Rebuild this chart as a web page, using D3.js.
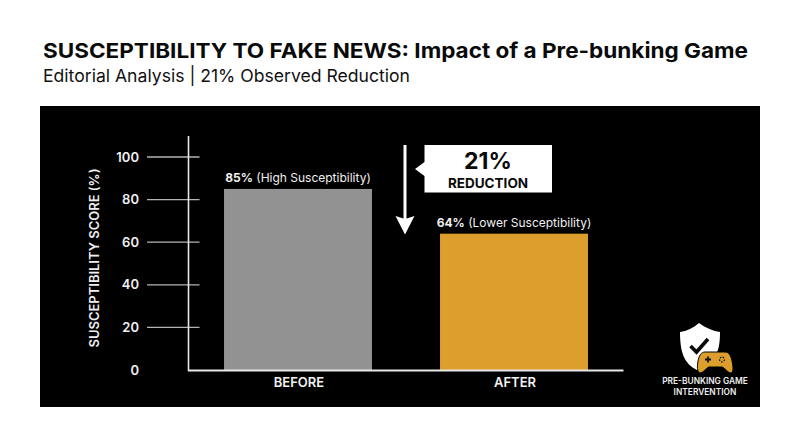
<!DOCTYPE html>
<html><head><meta charset="utf-8">
<script src="https://cdn.jsdelivr.net/npm/d3@7/dist/d3.min.js"></script>
<style>html,body{margin:0;padding:0;background:#fff}svg{display:block}text{font-family:Inter,"Open Sans",sans-serif}</style>
</head><body><div id="c"></div>
<script>
const categories=["BEFORE","AFTER"];
const values=[85,64];
const valueLabels=["85%","64%"];
const noteLabels=[" (High Susceptibility)"," (Lower Susceptibility)"];
const barColors=["#929292","#dc9f2e"];
const tickValues=[0,20,40,60,80,100];
const titleText="SUSCEPTIBILITY TO FAKE NEWS: Impact of a Pre-bunking Game";
const subtitleText="Editorial Analysis | 21% Observed Reduction";
const axisTitle="SUSCEPTIBILITY SCORE (%)";
const calloutNumber="21%", calloutWord="REDUCTION";
const badgeLines=["PRE-BUNKING GAME","INTERVENTION"];

const svg=d3.select("#c").append("svg").attr("width",800).attr("height",447);
svg.append("rect").attr("width",800).attr("height",447).attr("fill","#fff");
const fit=(s,len)=>s.attr("textLength",len).attr("lengthAdjust","spacingAndGlyphs");
fit(svg.append("text").attr("x",43).attr("y",58).attr("font-size",20.5).attr("font-weight",700).attr("fill","#0a0a0a").text(titleText),705);
fit(svg.append("text").attr("x",43).attr("y",82).attr("font-size",17.5).attr("font-weight",400).attr("fill","#111").text(subtitleText),367);
svg.append("rect").attr("x",40).attr("y",106).attr("width",720).attr("height",301).attr("fill","#000");

const y=d3.scaleLinear().domain([0,100]).range([370,157]);
const x=d3.scaleBand().domain(categories).range([188.5,623.5]).paddingInner(0.315).paddingOuter(0.1645);

svg.append("g").selectAll("line").data(tickValues.filter(d=>d>0)).join("line")
 .attr("x1",147).attr("x2",199.5).attr("y1",d=>y(d)).attr("y2",d=>y(d)).attr("stroke","#b4b4b4").attr("stroke-width",1.3);
svg.append("g").selectAll("text").data(tickValues).join("text")
 .attr("x",139).attr("y",d=>y(d)+4.5).attr("text-anchor","end").attr("font-size",13).attr("font-weight",600).attr("fill","#f0f0f0").text(d=>d);
fit(svg.append("text").attr("transform","translate(99,258) rotate(-90)").attr("text-anchor","middle").attr("font-size",12.5).attr("font-weight",600).attr("fill","#f0f0f0").text(axisTitle),179);

svg.append("g").selectAll("rect").data(values).join("rect")
 .attr("x",(d,i)=>x(categories[i])).attr("width",x.bandwidth()).attr("y",d=>y(d)).attr("height",d=>y(0)-y(d)).attr("fill",(d,i)=>barColors[i]);

svg.append("line").attr("x1",188.5).attr("x2",188.5).attr("y1",136).attr("y2",371).attr("stroke","#e8e8e8").attr("stroke-width",1.6);
svg.append("line").attr("x1",188).attr("x2",623.5).attr("y1",370.5).attr("y2",370.5).attr("stroke","#e8e8e8").attr("stroke-width",1.8);

svg.append("g").selectAll("text").data(categories).join("text")
 .attr("x",d=>x(d)+x.bandwidth()/2+1).attr("y",387).attr("text-anchor","middle").attr("font-size",13).attr("font-weight",600).attr("fill","#f2f2f2").text(d=>d);

const lab=svg.append("g").selectAll("text").data(values).join("text")
 .attr("x",(d,i)=>x(categories[i])+x.bandwidth()/2).attr("y",d=>y(d)-7).attr("text-anchor","middle").attr("font-size",12).attr("fill","#f0f0f0");
lab.append("tspan").attr("font-weight",700).text((d,i)=>valueLabels[i]);
lab.append("tspan").attr("font-weight",400).attr("xml:space","preserve").text((d,i)=>noteLabels[i]);

svg.append("line").attr("x1",405).attr("x2",405).attr("y1",145).attr("y2",220).attr("stroke","#fff").attr("stroke-width",3);
svg.append("path").attr("d","M395.5,216 L405,219 L414.5,216 L405,234.5 Z").attr("fill","#fff");
svg.append("path").attr("d","M424.5,145 H552 V192.5 H424.5 V176 L415,169 L424.5,162 Z").attr("fill","#fff");
svg.append("text").attr("x",488).attr("y",169).attr("text-anchor","middle").attr("font-size",23).attr("font-weight",700).attr("fill","#0a0a0a").text(calloutNumber);
svg.append("text").attr("x",488).attr("y",187.5).attr("text-anchor","middle").attr("font-size",13.5).attr("font-weight",700).attr("fill","#0a0a0a").text(calloutWord);

const b=svg.append("g");
b.append("path").attr("d","M699,323 C706,328 713,331 720,332 C720,345 719,361 699,371 C686,365 680,356 680,332 C687,331 693,328 699,323 Z").attr("fill","#fff");
b.append("path").attr("d","M690.5,346 L696.5,352 L708,339").attr("fill","none").attr("stroke","#0a0a0a").attr("stroke-width",3.6);
b.append("path").attr("d","M705,352 C701,352 699,356 698,361 C697,366 697,372 700,373 C703,373 706,368 709,367 H722 C725,368 728,373 731,373 C734,372 733,366 732,361 C731,356 729,352 725,352 Z").attr("fill","#dc9f2e").attr("stroke","#000").attr("stroke-width",1);
b.append("path").attr("d","M708,356.5 V362.5 M705,359.5 H711").attr("stroke","#111").attr("stroke-width",1.8);
b.append("circle").attr("cx",722).attr("cy",359.5).attr("r",2.4).attr("fill","none").attr("stroke","#111").attr("stroke-width",1.3).attr("stroke-dasharray","1.5 1.2");
svg.append("g").selectAll("text").data(badgeLines).join("text").attr("x",705).attr("y",(d,i)=>384+i*10.8).attr("text-anchor","middle").attr("font-size",8.4).attr("font-weight",600).attr("fill","#efefef").text(d=>d);
</script></body></html>
